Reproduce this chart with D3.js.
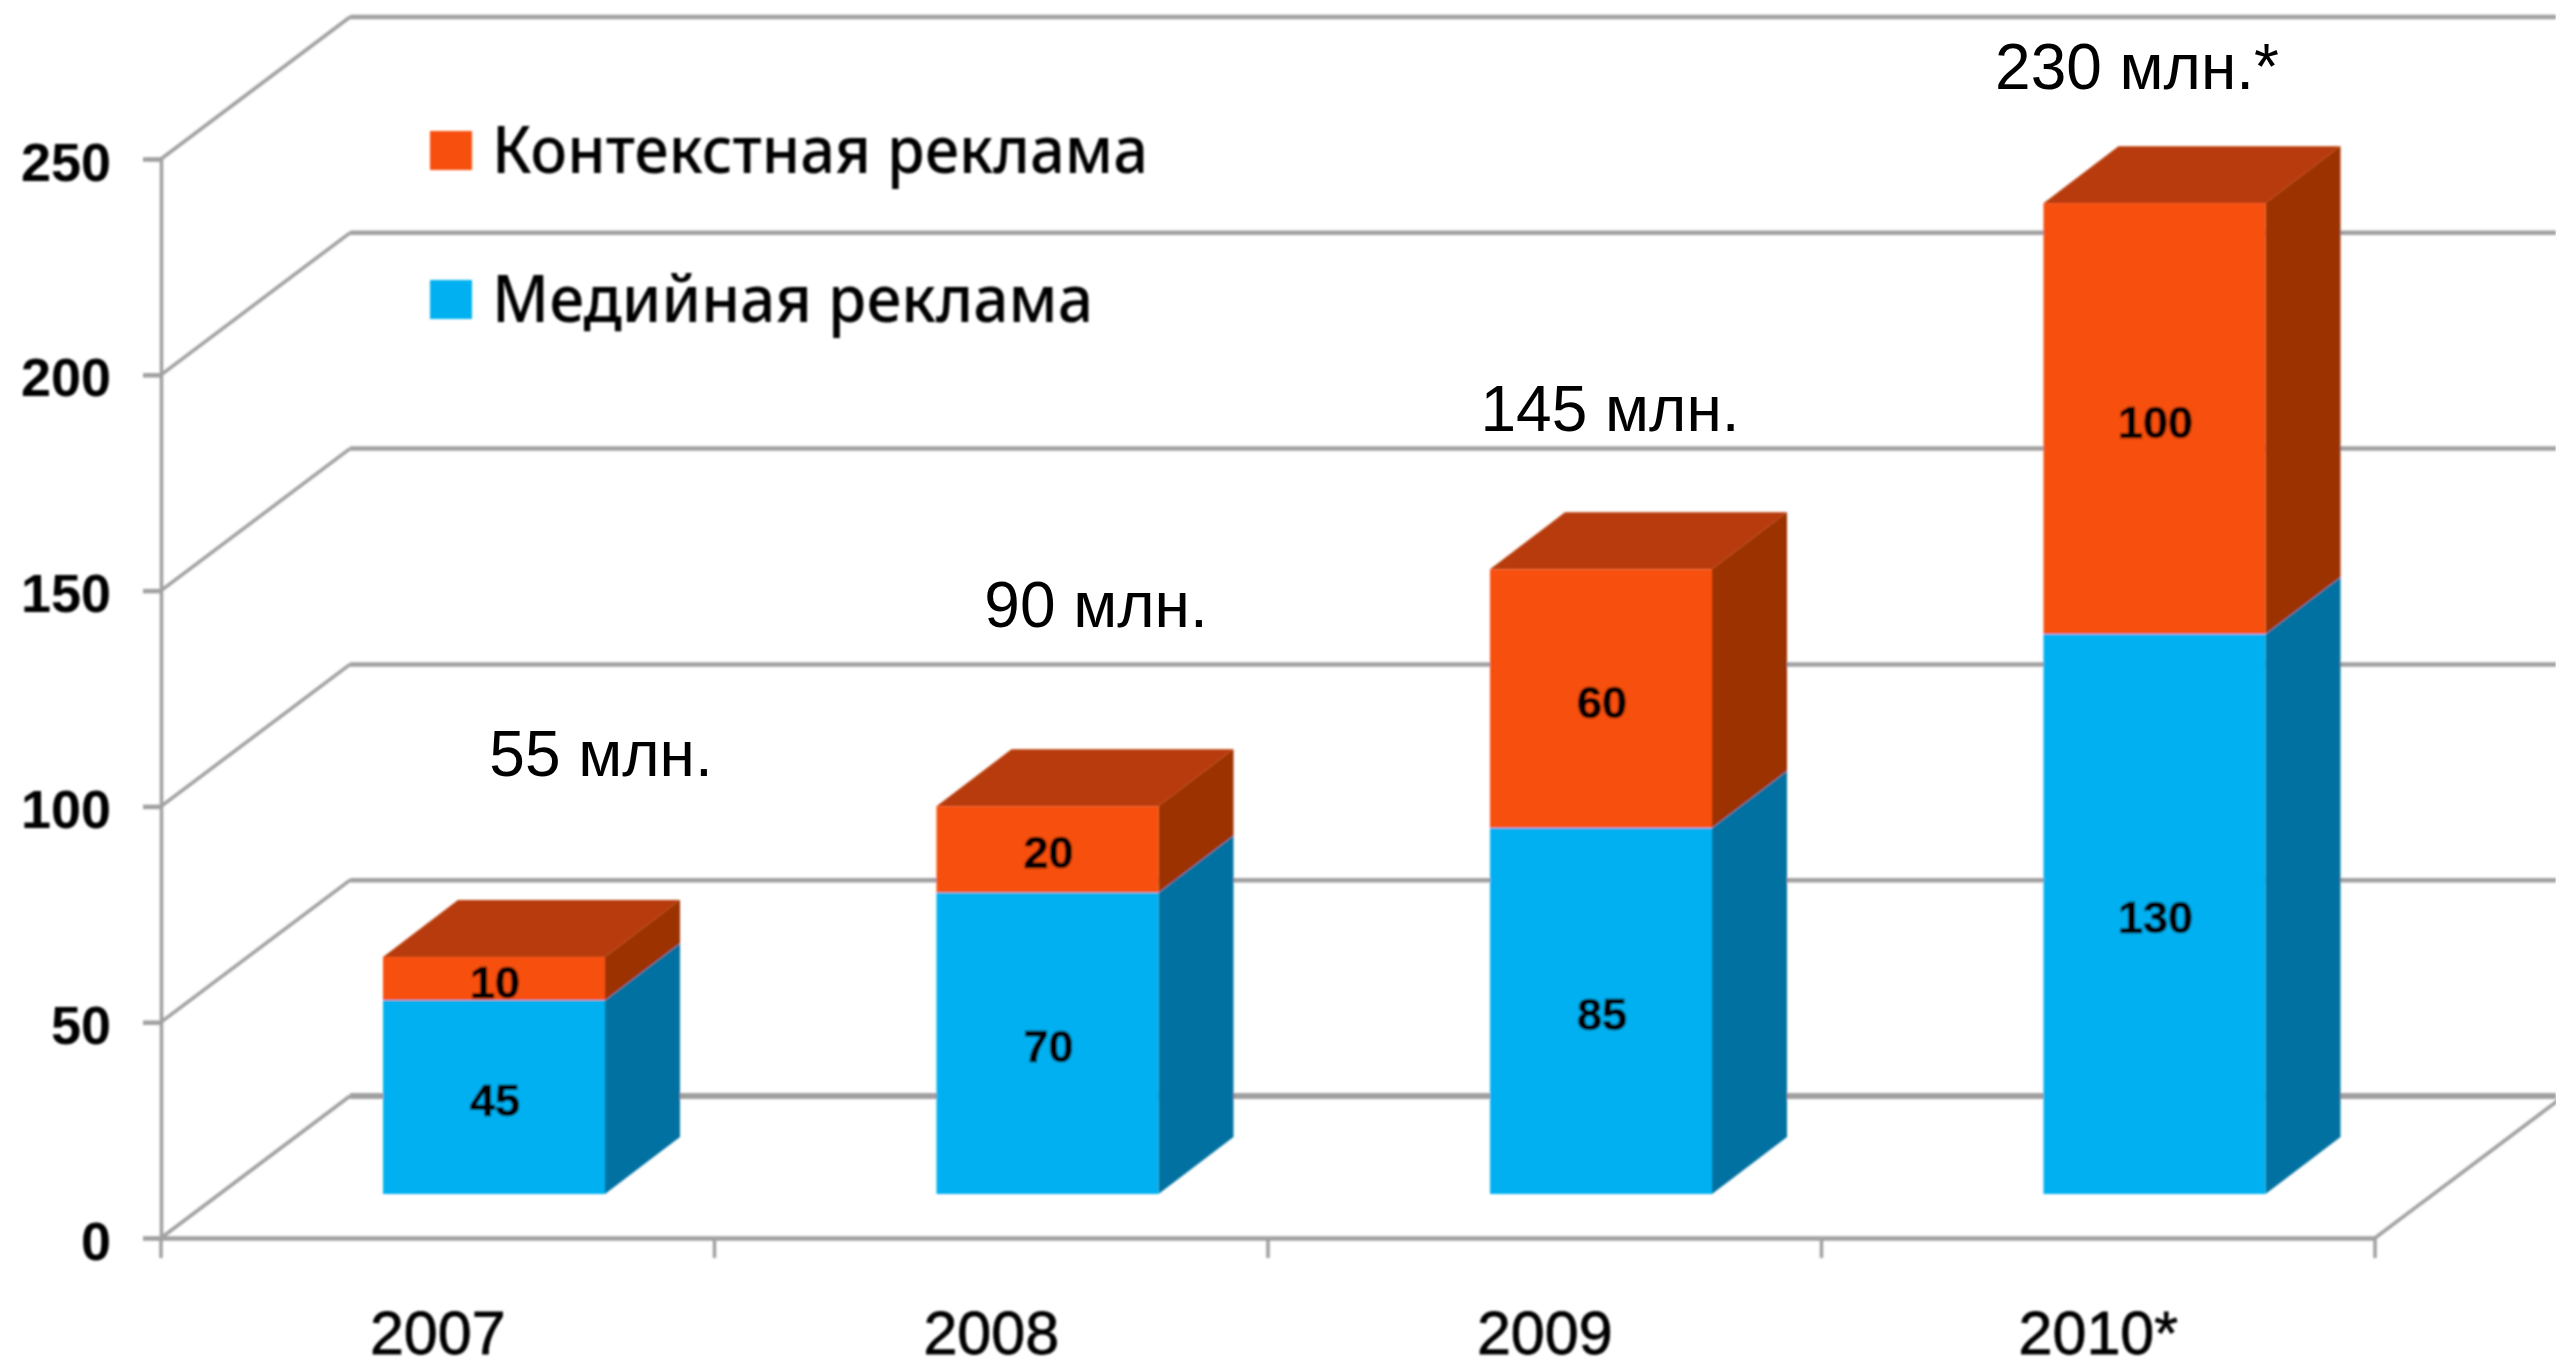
<!DOCTYPE html>
<html lang="ru">
<head>
<meta charset="utf-8">
<title>Реклама</title>
<script src="https://cdn.jsdelivr.net/npm/d3@7"></script>
<style>
html,body{margin:0;padding:0;background:#fff;overflow:hidden}
svg{display:block}
</style>
</head>
<body>
<svg id="chart" width="2556" height="1362"></svg>
<script>
const categories = ["2007", "2008", "2009", "2010*"];
const mediaValues = [45, 70, 85, 130];
const contextValues = [10, 20, 60, 100];
const totalLabels = ["55 млн.", "90 млн.", "145 млн.", "230 млн.*"];
const yTicks = [0, 50, 100, 150, 200, 250];
const legendLabels = ["Контекстная реклама", "Медийная реклама"];

const W = 2556, H = 1362;
const svg = d3.select("#chart");
const sans = "'Liberation Sans', Arial, sans-serif";

const x = d3.scaleBand().domain(categories).range([161, 2375]).padding(0);
const y = d3.scaleLinear().domain([0, 250]).range([1238, 159]);
const barY = d3.scaleLinear().domain([0, 250]).range([1194, 117]);

const wallDx = 189, wallDy = 142;      // depth of the chart box
const barDx = 75, barDy = 57;          // depth of each bar
const barOffset = 222, barWidth = 222;
const barX = c => x(c) + barOffset;

const gridColor = "#a0a0a0";
const orange = "#f7500b", orangeTop = "#b83a07", orangeSide = "#9c3105";
const blue = "#00b0f0", blueSide = "#0071a0";

const defs = svg.append("defs");
defs.append("filter").attr("id", "soft")
  .attr("filterUnits", "userSpaceOnUse")
  .attr("x", 0).attr("y", 0).attr("width", W).attr("height", H)
  .append("feGaussianBlur").attr("stdDeviation", 0.9);

const root = svg.append("g").attr("filter", "url(#soft)");

// Back wall grid lines
root.append("g").selectAll("line").data(yTicks).join("line")
  .attr("x1", x.range()[0] + wallDx)
  .attr("x2", W)
  .attr("y1", d => y(d) - wallDy)
  .attr("y2", d => y(d) - wallDy)
  .attr("stroke", gridColor)
  .attr("stroke-width", d => d === 0 ? 6 : 4.5);

// Side wall diagonals
root.append("g").selectAll("line").data(yTicks).join("line")
  .attr("x1", x.range()[0])
  .attr("x2", x.range()[0] + wallDx)
  .attr("y1", d => y(d))
  .attr("y2", d => y(d) - wallDy)
  .attr("stroke", gridColor)
  .attr("stroke-width", 3.5);

// Floor right diagonal
root.append("line")
  .attr("x1", x.range()[1]).attr("y1", y(0))
  .attr("x2", x.range()[1] + wallDx).attr("y2", y(0) - wallDy)
  .attr("stroke", gridColor).attr("stroke-width", 3.5);

// Y axis
const yAxis = root.append("g")
  .attr("transform", `translate(${x.range()[0]},0)`)
  .call(d3.axisLeft(y).tickValues(yTicks).tickSize(18).tickPadding(32));
yAxis.select(".domain").attr("stroke", gridColor).attr("stroke-width", 3.5);
yAxis.selectAll(".tick line").attr("stroke", gridColor).attr("stroke-width", 4.5);
yAxis.selectAll(".tick text")
  .attr("font-family", sans).attr("font-size", 54).attr("font-weight", 700)
  .attr("fill", "#000").attr("dy", "0.39em");

// X axis
const xAxis = root.append("g")
  .attr("transform", `translate(0,${y(0)})`)
  .call(d3.axisBottom(x).tickSize(0).tickPadding(73));
xAxis.select(".domain").attr("stroke", gridColor).attr("stroke-width", 4.5);
xAxis.selectAll(".tick text")
  .attr("font-family", sans).attr("font-size", 61)
  .attr("stroke", "#000").attr("stroke-width", 0.8)
  .attr("fill", "#000").attr("dy", "0.70em");
xAxis.selectAll("line.boundary")
  .data(categories.concat("end"))
  .join("line").attr("class", "boundary")
  .attr("x1", (d, i) => x.range()[0] + i * x.step())
  .attr("x2", (d, i) => x.range()[0] + i * x.step())
  .attr("y1", 0).attr("y2", 20)
  .attr("stroke", gridColor).attr("stroke-width", 3.5);

// Bars
const pts = a => a.map(p => p.join(",")).join(" ");
const bars = root.append("g").selectAll("g")
  .data(categories.map((c, i) => ({ c, media: mediaValues[i], context: contextValues[i] })))
  .join("g");

bars.append("polygon").attr("fill", blueSide).attr("points", d => {
  const r = barX(d.c) + barWidth;
  return pts([[r, barY(0)], [r + barDx, barY(0) - barDy],
              [r + barDx, barY(d.media) - barDy], [r, barY(d.media)]]);
});
bars.append("polygon").attr("fill", orangeSide).attr("points", d => {
  const r = barX(d.c) + barWidth, a = barY(d.media), b = barY(d.media + d.context);
  return pts([[r, a], [r + barDx, a - barDy], [r + barDx, b - barDy], [r, b]]);
});
bars.append("polygon").attr("fill", orangeTop).attr("points", d => {
  const l = barX(d.c), r = l + barWidth, b = barY(d.media + d.context);
  return pts([[l, b], [l + barDx, b - barDy], [r + barDx, b - barDy], [r, b]]);
});
bars.append("rect").attr("fill", blue)
  .attr("x", d => barX(d.c)).attr("width", barWidth)
  .attr("y", d => barY(d.media)).attr("height", d => barY(0) - barY(d.media));
bars.append("rect").attr("fill", orange)
  .attr("x", d => barX(d.c)).attr("width", barWidth)
  .attr("y", d => barY(d.media + d.context))
  .attr("height", d => barY(d.media) - barY(d.media + d.context));

// Value labels
const valueLabel = sel => sel
  .attr("x", d => barX(d.c) + barWidth / 2 + 1)
  .attr("text-anchor", "middle")
  .attr("font-family", sans).attr("font-size", 45).attr("font-weight", 700)
  .attr("stroke", "#000").attr("stroke-width", 0.7)
  .attr("fill", "#000");
bars.append("text").call(valueLabel)
  .attr("y", d => (barY(0) + barY(d.media)) / 2 + 19)
  .text(d => d.media);
bars.append("text").call(valueLabel)
  .attr("y", d => (barY(d.media) + barY(d.media + d.context)) / 2 + 19)
  .text(d => d.context);

// Legend
const legendColors = [orange, blue];
const legendRowY = [170, 319];
const legendWidths = [656, 601];
const legend = root.append("g").selectAll("g").data(legendLabels).join("g");
legend.append("rect")
  .attr("x", 430).attr("width", 42)
  .attr("y", (d, i) => legendRowY[i] - 39).attr("height", 39)
  .attr("fill", (d, i) => legendColors[i]);
legend.append("text")
  .attr("x", 492)
  .attr("y", (d, i) => legendRowY[i] + 3)
  .attr("font-family", "'Noto Sans', 'Open Sans', sans-serif")
  .attr("font-size", 66).attr("font-weight", 500)
  .attr("textLength", (d, i) => legendWidths[i])
  .attr("lengthAdjust", "spacingAndGlyphs")
  .attr("fill", "#000")
  .text(d => d);

// Totals
const totalCenterX = [601, 1096, 1610, 2137];
const totalBaseline = [776, 627, 431, 89];
svg.append("g").selectAll("text").data(totalLabels).join("text")
  .attr("x", (d, i) => totalCenterX[i])
  .attr("y", (d, i) => totalBaseline[i])
  .attr("text-anchor", "middle")
  .attr("font-family", sans).attr("font-size", 64)
  .attr("fill", "#000")
  .text(d => d);
</script>
</body>
</html>
